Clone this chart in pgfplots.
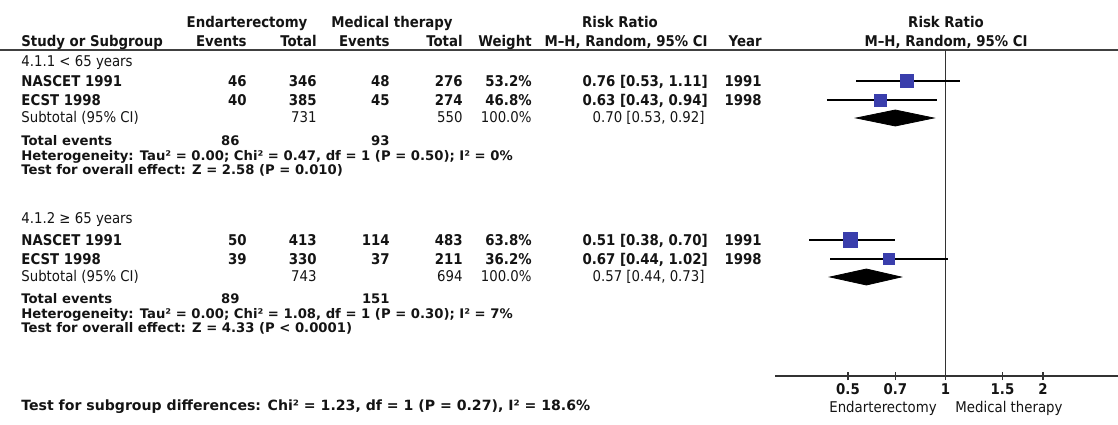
\documentclass[border=0pt]{standalone}
\usepackage{fontspec}
\setmainfont{DejaVu Sans Condensed}
\newfontfamily\statfont{DejaVu Sans}
\usepackage{pgfplots}
\pgfplotsset{compat=1.18}
\definecolor{sqblue}{RGB}{58,62,172}
\definecolor{txt}{RGB}{20,20,20}
\newcommand{\fb}{\fontsize{7.4}{8}\selectfont\bfseries}
\newcommand{\fr}{\fontsize{7.4}{8}\selectfont\mdseries}
\newcommand{\fs}{\statfont\fontsize{6.6}{8}\selectfont\bfseries}
\newcommand{\fg}{\statfont\fontsize{7.05}{8}\selectfont\bfseries}
\newcommand{\tl}[3]{\node[anchor=west] at (axis cs:#1,#2) {#3};}
\newcommand{\tr}[3]{\node[anchor=east] at (axis cs:#1,#2) {#3};}
\newcommand{\tc}[3]{\node[anchor=center] at (axis cs:#1,#2) {#3};}
\begin{document}
\begin{tikzpicture}[every node/.style={inner sep=0pt, text height=0.72em, text depth=0.2em, text=txt}]
% ---------- text layer (pixel coordinates) ----------
\begin{axis}[at={(0,0)}, anchor=south west, width=559pt, height=212pt, scale only axis,
  xmin=0, xmax=1118, ymin=0, ymax=424, y dir=reverse, hide axis, clip=false]
\addplot[draw=black!75, line width=1pt] coordinates {(0,49.5) (1118,49.5)};
% header
\tc{247}{22}{\fb Endarterectomy}
\tc{392}{22}{\fb Medical therapy}
\tc{620}{22}{\fb Risk Ratio}
\tc{946}{22}{\fb Risk Ratio}
\tl{21}{41}{\fb Study or Subgroup}
\tr{247}{41}{\fb Events}
\tr{317}{41}{\fb Total}
\tr{390}{41}{\fb Events}
\tr{463}{41}{\fb Total}
\tr{532}{41}{\fb Weight}
\tc{626}{41}{\fb M–H, Random, 95\% CI}
\tr{762}{41}{\fb Year}
\tc{946}{41}{\fb M–H, Random, 95\% CI}
% group 1
\tl{21}{61}{\fr 4.1.1 < 65 years}
\tl{21}{81}{\fb NASCET 1991}
\tr{247}{81}{\fb 46}\tr{317}{81}{\fb 346}\tr{390}{81}{\fb 48}\tr{463}{81}{\fb 276}
\tr{532}{81}{\fb 53.2\%}\tr{708}{81}{\fb 0.76 [0.53, 1.11]}\tr{762}{81}{\fb 1991}
\tl{21}{100}{\fb ECST 1998}
\tr{247}{100}{\fb 40}\tr{317}{100}{\fb 385}\tr{390}{100}{\fb 45}\tr{463}{100}{\fb 274}
\tr{532}{100}{\fb 46.8\%}\tr{708}{100}{\fb 0.63 [0.43, 0.94]}\tr{762}{100}{\fb 1998}
\tl{21}{117}{\fr Subtotal (95\% CI)}
\tr{317}{117}{\fr 731}\tr{463}{117}{\fr 550}\tr{532}{117}{\fr 100.0\%}
\tr{705}{117}{\fr 0.70 [0.53, 0.92]}
\tl{21}{140}{\fs Total events}
\tr{240}{140}{\fs 86}\tr{390}{140}{\fs 93}
\tl{21}{155}{\fs Heterogeneity: Tau² = 0.00; Chi² = 0.47, df = 1 (P = 0.50); I² = 0\%}
\tl{21}{169}{\fs Test for overall effect: Z = 2.58 (P = 0.010)}
% group 2
\tl{21}{218}{\fr 4.1.2 ≥ 65 years}
\tl{21}{240}{\fb NASCET 1991}
\tr{247}{240}{\fb 50}\tr{317}{240}{\fb 413}\tr{390}{240}{\fb 114}\tr{463}{240}{\fb 483}
\tr{532}{240}{\fb 63.8\%}\tr{708}{240}{\fb 0.51 [0.38, 0.70]}\tr{762}{240}{\fb 1991}
\tl{21}{259}{\fb ECST 1998}
\tr{247}{259}{\fb 39}\tr{317}{259}{\fb 330}\tr{390}{259}{\fb 37}\tr{463}{259}{\fb 211}
\tr{532}{259}{\fb 36.2\%}\tr{708}{259}{\fb 0.67 [0.44, 1.02]}\tr{762}{259}{\fb 1998}
\tl{21}{276}{\fr Subtotal (95\% CI)}
\tr{317}{276}{\fr 743}\tr{463}{276}{\fr 694}\tr{532}{276}{\fr 100.0\%}
\tr{705}{276}{\fr 0.57 [0.44, 0.73]}
\tl{21}{298}{\fs Total events}
\tr{240}{298}{\fs 89}\tr{390}{298}{\fs 151}
\tl{21}{313}{\fs Heterogeneity: Tau² = 0.00; Chi² = 1.08, df = 1 (P = 0.30); I² = 7\%}
\tl{21}{327}{\fs Test for overall effect: Z = 4.33 (P < 0.0001)}
\tl{21}{405}{\fg Test for subgroup differences: Chi² = 1.23, df = 1 (P = 0.27), I² = 18.6\%}
% axis captions
\tc{883}{407}{\fr Endarterectomy}
\tc{1009}{407}{\fr Medical therapy}
\end{axis}
% ---------- forest plot (log x) ----------
\begin{axis}[at={(387.5pt,24pt)}, anchor=south west, width=171.5pt, height=163pt, scale only axis,
  xmode=log, xmin=0.2976, xmax=3.41, ymin=48, ymax=374,
  axis x line=bottom, axis y line=none,
  axis line style={-, line width=0.75pt, draw=black!80},
  xtick={0.5,0.7,1,1.5,2}, xticklabels={0.5,0.7,1,1.5,2},
  tick align=center, major tick length=4pt,
  tick style={black!80, line width=0.6pt},
  xticklabel style={font=\fb, anchor=north, yshift=0pt},
  clip=false]
\addplot[black!80, line width=0.75pt] coordinates {(1,48) (1,374)};
% confidence intervals
\addplot[black, line width=0.7pt] coordinates {(0.53,343) (1.11,343)};
\addplot[black, line width=0.7pt] coordinates {(0.43,324) (0.94,324)};
\addplot[black, line width=0.7pt] coordinates {(0.38,184) (0.70,184)};
\addplot[black, line width=0.7pt] coordinates {(0.44,165) (1.02,165)};
% study estimates
\addplot[only marks, mark=square*, mark size=3.25pt, color=sqblue] coordinates {(0.76,343)};
\addplot[only marks, mark=square*, mark size=3.05pt, color=sqblue] coordinates {(0.63,324)};
\addplot[only marks, mark=square*, mark size=3.56pt, color=sqblue] coordinates {(0.51,184)};
\addplot[only marks, mark=square*, mark size=2.68pt, color=sqblue] coordinates {(0.67,165)};
% pooled diamonds
\addplot[fill=black, draw=black] coordinates {(0.53,306) (0.70,314) (0.92,306) (0.70,298)} -- cycle;
\addplot[fill=black, draw=black] coordinates {(0.44,147) (0.57,155) (0.73,147) (0.57,139)} -- cycle;
\end{axis}
\pgfresetboundingbox
\path (0,0) rectangle (559pt,212pt);
\end{tikzpicture}
\end{document}
